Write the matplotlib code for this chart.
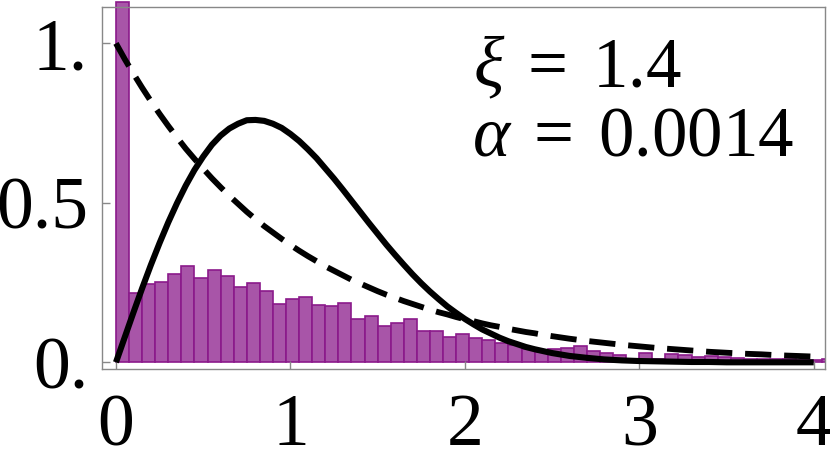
import numpy as np
import matplotlib
matplotlib.use("Agg")
import matplotlib.pyplot as plt

plt.rcParams["font.family"] = ["Liberation Serif", "DejaVu Serif"]
plt.rcParams["mathtext.fontset"] = "custom"
plt.rcParams["mathtext.rm"] = "Liberation Serif"
plt.rcParams["mathtext.it"] = "Liberation Serif:italic"

# ---------- Data ----------
bin_width = 0.075
hist_heights = [
    1.13, 0.216, 0.245, 0.251, 0.278, 0.301, 0.265, 0.288, 0.270, 0.237,
    0.249, 0.224, 0.182, 0.200, 0.204, 0.181, 0.175, 0.185, 0.136, 0.145,
    0.115, 0.124, 0.135, 0.099, 0.097, 0.080, 0.088, 0.076, 0.071, 0.060,
    0.055, 0.041, 0.033, 0.043, 0.046, 0.050, 0.037, 0.030, 0.023, 0.010,
    0.030, 0.010, 0.026, 0.022, 0.017, 0.021, 0.016, 0.014, 0.011, 0.009,
    0.009, 0.011, 0.008, 0.007, 0.010,
]

s_values = [
    0.0, 0.05, 0.1, 0.15, 0.2, 0.25, 0.3, 0.35, 0.4, 0.45,
    0.5, 0.55, 0.6, 0.65, 0.7, 0.75, 0.8, 0.85, 0.9, 0.95,
    1.0, 1.05, 1.1, 1.15, 1.2, 1.25, 1.3, 1.35, 1.4, 1.45,
    1.5, 1.55, 1.6, 1.65, 1.7, 1.75, 1.8, 1.85, 1.9, 1.95,
    2.0, 2.05, 2.1, 2.15, 2.2, 2.25, 2.3, 2.35, 2.4, 2.45,
    2.5, 2.6, 2.7, 2.8, 2.9, 3.0, 3.1, 3.2, 3.3, 3.4,
    3.5, 3.6, 3.7, 3.8, 3.9, 4.0,
]
# solid curve
wigner = [
    0.0, 0.078, 0.156, 0.232, 0.305, 0.374, 0.439, 0.499, 0.554, 0.603,
    0.645, 0.682, 0.711, 0.733, 0.748, 0.759, 0.760, 0.757, 0.748, 0.735,
    0.716, 0.694, 0.668, 0.640, 0.608, 0.576, 0.542, 0.507, 0.472, 0.437,
    0.403, 0.369, 0.337, 0.306, 0.276, 0.248, 0.222, 0.198, 0.175, 0.155,
    0.136, 0.119, 0.103, 0.090, 0.077, 0.066, 0.057, 0.048, 0.041, 0.035,
    0.029, 0.020, 0.014, 0.009, 0.006, 0.004, 0.003, 0.002, 0.001, 0.001,
    0.0, 0.0, 0.0, 0.0, 0.0, 0.0,
]
# dashed curve
poisson = [
    1.0, 0.951, 0.905, 0.861, 0.819, 0.779, 0.741, 0.705, 0.670, 0.638,
    0.607, 0.577, 0.549, 0.522, 0.497, 0.472, 0.449, 0.427, 0.407, 0.387,
    0.368, 0.350, 0.333, 0.317, 0.301, 0.287, 0.273, 0.259, 0.247, 0.235,
    0.223, 0.212, 0.202, 0.192, 0.183, 0.174, 0.165, 0.157, 0.150, 0.142,
    0.135, 0.129, 0.122, 0.116, 0.111, 0.105, 0.100, 0.095, 0.091, 0.086,
    0.082, 0.074, 0.067, 0.061, 0.055, 0.050, 0.045, 0.041, 0.037, 0.033,
    0.030, 0.027, 0.025, 0.022, 0.020, 0.018,
]

x_ticks = [0, 1, 2, 3, 4]
y_ticks = [0, 0.5, 1.0]
y_tick_labels = ["0.", "0.5", "1."]
label_lines = [r"$\xi\;=\;1.4$", r"$\alpha\;=\;0.0014$"]

# ---------- Plot ----------
fig = plt.figure(figsize=(8.3, 4.62), dpi=100)
ax = fig.add_axes([0.1229, 0.2013, 0.8711, 0.7835])

lefts = np.arange(len(hist_heights)) * bin_width
bars = ax.bar(lefts, hist_heights, width=bin_width, align="edge",
              color="#a855a8", edgecolor="#8b1a8b", linewidth=1.2, zorder=1)
bars[0].set_clip_on(False)

ax.plot(s_values, poisson, color="black", lw=4.2, dashes=(4.5, 2.2), zorder=3)
ax.plot(s_values, wigner, color="black", lw=4.4, solid_capstyle="butt",
        solid_joinstyle="round", zorder=4)

ax.set_xlim(-0.08, 4.065)
ax.set_ylim(-0.021, 1.114)
ax.set_xticks(x_ticks)
ax.set_yticks(y_ticks)
ax.set_yticklabels(y_tick_labels)

for side in ax.spines.values():
    side.set_color("#888888")
    side.set_linewidth(1.0)
ax.tick_params(direction="in", length=6, width=1.0, color="#888888",
               labelsize=53, labelcolor="black")
ax.tick_params(axis="x", pad=18)
ax.tick_params(axis="y", pad=10)

ax.text(0.513, 0.779, label_lines[0], transform=ax.transAxes, fontsize=51,
        ha="left", va="baseline")
ax.text(0.512, 0.591, label_lines[1], transform=ax.transAxes, fontsize=51,
        ha="left", va="baseline")

fig.savefig("out.png", dpi=100)
